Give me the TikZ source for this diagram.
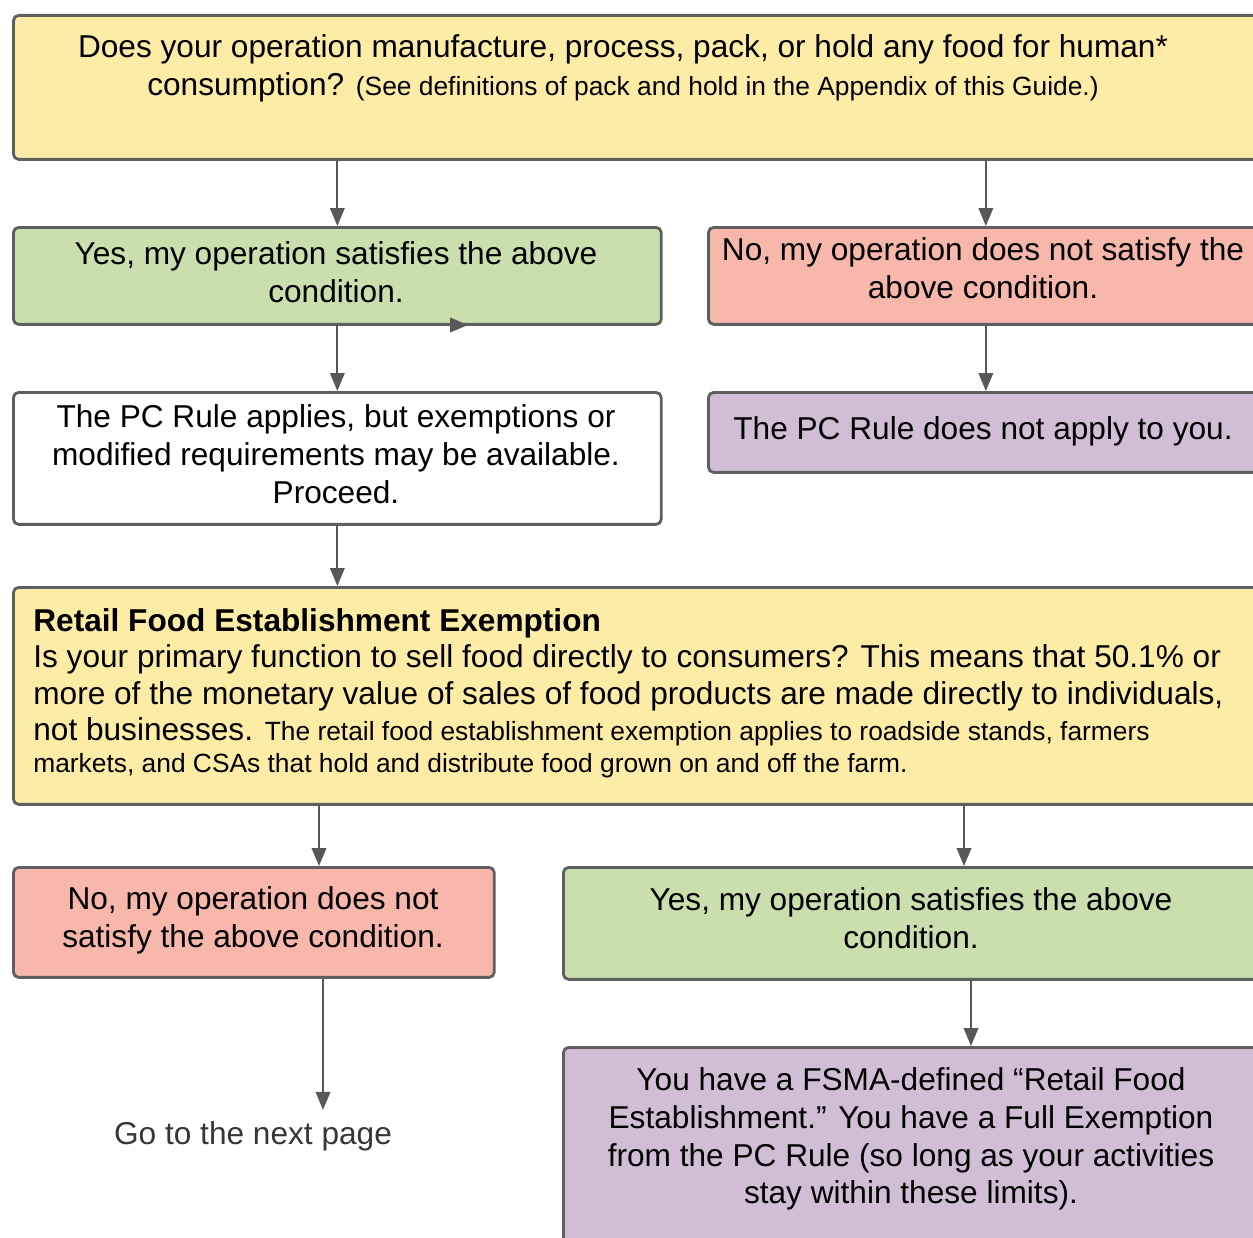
\documentclass[tikz,border=0pt]{standalone}
\usepackage{fontspec}
\setmainfont{Liberation Sans}
\usetikzlibrary{arrows.meta,positioning}
\definecolor{qyel}{RGB}{253,236,166}
\definecolor{okgrn}{RGB}{201,224,174}
\definecolor{nored}{RGB}{247,183,171}
\definecolor{endpur}{RGB}{209,190,214}
\definecolor{edgec}{RGB}{95,95,95}
\definecolor{arrc}{RGB}{88,88,88}
\definecolor{nextc}{RGB}{55,55,55}

\begin{document}
\begin{tikzpicture}[x=0.02cm,y=-0.02cm,>={Triangle[length=0.36cm,width=0.29cm]},
  box/.style={draw=edgec,line width=1.6pt,rounded corners=3pt,anchor=north west,inner sep=0pt},
  txt/.style={align=center,inner sep=0pt,font=\fontsize{18}{21.5}\selectfont},
  arr/.style={->,draw=arrc,fill=arrc,line width=1.2pt}]
  \clip (0,0) rectangle (1253,1237);
  \fill[white] (0,0) rectangle (1253,1237);

  % first question and its answers
  \node[box,fill=qyel,minimum width=25cm,minimum height=2.88cm] (q1) at (12,14) {};
  \node[txt] (q1txt) at (623,68) {Does your operation manufacture, process, pack, or hold any food for human*\\
    consumption? {\fontsize{15}{18}\selectfont (See definitions of pack and hold in the Appendix of this Guide.)}};
  \node[box,fill=okgrn,minimum width=12.96cm,minimum height=1.94cm] (yesA) at (12,226) {};
  \node[txt] (yesAtxt) at (336,272) {Yes, my operation satisfies the above\\condition.};
  \node[box,fill=nored,minimum width=11.1cm,minimum height=1.94cm] (noA) at (707,226) {};
  \node[txt] (noAtxt) at (983,268) {No, my operation does not satisfy the\\above condition.};
  \node[box,fill=white,minimum width=12.96cm,minimum height=2.64cm] (applies) at (12,391) {};
  \node[txt] (appliestxt) at (336,454) {The PC Rule applies, but exemptions or\\modified requirements may be available.\\Proceed.};
  \node[box,fill=endpur,minimum width=11.1cm,minimum height=1.6cm] (notapp) at (707,391) {};
  \node[txt] (notapptxt) at (983,431) {The PC Rule does not apply to you.};

  % retail food establishment question
  \node[box,fill=qyel,minimum width=25cm,minimum height=4.34cm] (q2) at (12,586) {};
  \node[txt,align=left,anchor=north west,font=\fontsize{18}{20.7}\selectfont] (q2txt) at (33,608) {\textbf{Retail Food Establishment Exemption}\\
    Is your primary function to sell food directly to consumers? This means that 50.1\% or\\
    more of the monetary value of sales of food products are made directly to individuals,\\
    not businesses. {\fontsize{15}{18}\selectfont The retail food establishment exemption applies to roadside stands, farmers}\\[-0.08cm]
    {\fontsize{15}{18}\selectfont markets, and CSAs that hold and distribute food grown on and off the farm.}};
  \node[box,fill=nored,minimum width=9.62cm,minimum height=2.2cm] (noB) at (12,866) {};
  \node[txt] (noBtxt) at (253,920) {No, my operation does not\\satisfy the above condition.};
  \node[box,fill=okgrn,minimum width=13.96cm,minimum height=2.24cm] (yesB) at (562,866) {};
  \node[txt] (yesBtxt) at (911,918) {Yes, my operation satisfies the above\\condition.};
  \node[box,fill=endpur,minimum width=13.96cm,minimum height=4.4cm] (full) at (562,1046) {};
  \node[txt] (fulltxt) at (911,1139) {You have a FSMA-defined “Retail Food\\Establishment.” You have a Full Exemption\\from the PC Rule (so long as your activities\\stay within these limits).};
  \node[txt,text=nextc] (next) at (253,1136) {Go to the next page};

  % connectors
  \coordinate (xNoB) at (319,0);
  \coordinate (xYesB) at (964,0);
  \coordinate (xNext) at (323,0);
  \coordinate (xFull) at (971,0);
  \coordinate (stub) at (468,325);
  \draw[arr] (yesA.north |- q1.south) -- (yesA.north);
  \draw[arr] (noA.north |- q1.south) -- (noA.north);
  \draw[arr] (yesA.south) -- (applies.north);
  \draw[arr] (noA.south) -- (notapp.north);
  \draw[arr] (applies.south) -- (applies.south |- q2.north);
  \draw[arr] (xNoB |- q2.south) -- (xNoB |- noB.north);
  \draw[arr] (xYesB |- q2.south) -- (xYesB |- yesB.north);
  \draw[arr] (xNext |- noB.south) -- ([yshift=0.22cm]xNext |- next.north);
  \draw[arr] (xFull |- yesB.south) -- (xFull |- full.north);
  \draw[arr] ([xshift=-0.3cm]stub) -- (stub);
\end{tikzpicture}
\end{document}
